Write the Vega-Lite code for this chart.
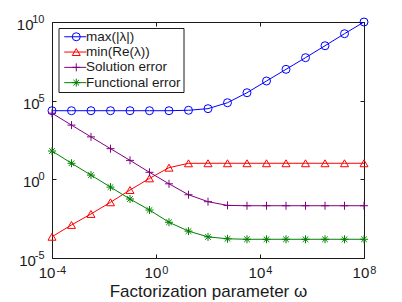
{
  "$schema": "https://vega.github.io/schema/vega-lite/v6.json",
  "width": 312,
  "height": 236,
  "autosize": "none",
  "padding": {"left": 52, "top": 22, "right": 38, "bottom": 44},
  "background": "white",
  "config": {
    "font": "Liberation Sans",
    "view": {"stroke": "#1a1a1a", "strokeWidth": 1},
    "axis": {"grid": false, "domain": false, "tickColor": "#1a1a1a", "tickSize": -4, "labelColor": "#1a1a1a", "titleColor": "#1a1a1a", "labelFont": "Liberation Sans", "titleFont": "Liberation Sans", "labelFontSize": 15, "titleFontSize": 17, "titleFontWeight": "normal", "labelFlush": false, "labelOverlap": false}
  },
  "data": {"values": [
    {"w": 1e-4, "s": "max(|λ|)", "v": 23000},
    {"w": 5.623e-4, "s": "max(|λ|)", "v": 23000},
    {"w": 3.162e-3, "s": "max(|λ|)", "v": 23000},
    {"w": 1.778e-2, "s": "max(|λ|)", "v": 23000},
    {"w": 0.1, "s": "max(|λ|)", "v": 23000},
    {"w": 0.5623, "s": "max(|λ|)", "v": 23000},
    {"w": 3.162, "s": "max(|λ|)", "v": 23000},
    {"w": 17.78, "s": "max(|λ|)", "v": 24500},
    {"w": 100, "s": "max(|λ|)", "v": 31000},
    {"w": 562.3, "s": "max(|λ|)", "v": 74000},
    {"w": 3162, "s": "max(|λ|)", "v": 320000},
    {"w": 17783, "s": "max(|λ|)", "v": 1780000},
    {"w": 100000, "s": "max(|λ|)", "v": 9800000},
    {"w": 562341, "s": "max(|λ|)", "v": 54000000},
    {"w": 3162278, "s": "max(|λ|)", "v": 310000000},
    {"w": 17782794, "s": "max(|λ|)", "v": 1800000000},
    {"w": 100000000, "s": "max(|λ|)", "v": 10000000000},
    {"w": 1e-4, "s": "min(Re(λ))", "v": 2.24e-4},
    {"w": 5.623e-4, "s": "min(Re(λ))", "v": 1.26e-3},
    {"w": 3.162e-3, "s": "min(Re(λ))", "v": 6.3e-3},
    {"w": 1.778e-2, "s": "min(Re(λ))", "v": 3.47e-2},
    {"w": 0.1, "s": "min(Re(λ))", "v": 0.209},
    {"w": 0.5623, "s": "min(Re(λ))", "v": 1.15},
    {"w": 3.162, "s": "min(Re(λ))", "v": 5.5},
    {"w": 17.78, "s": "min(Re(λ))", "v": 10.4},
    {"w": 100, "s": "min(Re(λ))", "v": 10.5},
    {"w": 562.3, "s": "min(Re(λ))", "v": 10.5},
    {"w": 3162, "s": "min(Re(λ))", "v": 10.5},
    {"w": 17783, "s": "min(Re(λ))", "v": 10.5},
    {"w": 100000, "s": "min(Re(λ))", "v": 10.5},
    {"w": 562341, "s": "min(Re(λ))", "v": 10.5},
    {"w": 3162278, "s": "min(Re(λ))", "v": 10.5},
    {"w": 17782794, "s": "min(Re(λ))", "v": 10.5},
    {"w": 100000000, "s": "min(Re(λ))", "v": 10.5},
    {"w": 1e-4, "s": "Solution error", "v": 16000},
    {"w": 5.623e-4, "s": "Solution error", "v": 2800},
    {"w": 3.162e-3, "s": "Solution error", "v": 500},
    {"w": 1.778e-2, "s": "Solution error", "v": 89},
    {"w": 0.1, "s": "Solution error", "v": 16},
    {"w": 0.5623, "s": "Solution error", "v": 2.8},
    {"w": 3.162, "s": "Solution error", "v": 0.52},
    {"w": 17.78, "s": "Solution error", "v": 0.105},
    {"w": 100, "s": "Solution error", "v": 0.038},
    {"w": 562.3, "s": "Solution error", "v": 0.022},
    {"w": 3162, "s": "Solution error", "v": 0.021},
    {"w": 17783, "s": "Solution error", "v": 0.021},
    {"w": 100000, "s": "Solution error", "v": 0.021},
    {"w": 562341, "s": "Solution error", "v": 0.021},
    {"w": 3162278, "s": "Solution error", "v": 0.021},
    {"w": 17782794, "s": "Solution error", "v": 0.021},
    {"w": 100000000, "s": "Solution error", "v": 0.021},
    {"w": 1e-4, "s": "Functional error", "v": 63},
    {"w": 5.623e-4, "s": "Functional error", "v": 10.5},
    {"w": 3.162e-3, "s": "Functional error", "v": 1.86},
    {"w": 1.778e-2, "s": "Functional error", "v": 0.32},
    {"w": 0.1, "s": "Functional error", "v": 0.056},
    {"w": 0.5623, "s": "Functional error", "v": 0.0112},
    {"w": 3.162, "s": "Functional error", "v": 1.86e-3},
    {"w": 17.78, "s": "Functional error", "v": 5.1e-4},
    {"w": 100, "s": "Functional error", "v": 2.2e-4},
    {"w": 562.3, "s": "Functional error", "v": 1.66e-4},
    {"w": 3162, "s": "Functional error", "v": 1.55e-4},
    {"w": 17783, "s": "Functional error", "v": 1.55e-4},
    {"w": 100000, "s": "Functional error", "v": 1.55e-4},
    {"w": 562341, "s": "Functional error", "v": 1.55e-4},
    {"w": 3162278, "s": "Functional error", "v": 1.55e-4},
    {"w": 17782794, "s": "Functional error", "v": 1.55e-4},
    {"w": 100000000, "s": "Functional error", "v": 1.55e-4}
  ]},
  "layer": [
    {
      "mark": {"type": "line", "strokeWidth": 1, "clip": true},
      "encoding": {
        "x": {"field": "w", "type": "quantitative", "scale": {"type": "log", "domain": [1e-4, 1e8], "nice": false},
          "axis": {"orient": "bottom", "values": [1e-4, 1, 10000, 100000000], "title": "Factorization parameter ω", "labelPadding": 23, "labelBaseline": "alphabetic", "titlePadding": 3,
            "labelExpr": "'10'",
            "labelOffset": {"condition": {"test": "datum.value < 0.001", "value": -5.4}, "value": -3.55}}},
        "y": {"field": "v", "type": "quantitative", "scale": {"type": "log", "domain": [1e-5, 1e10], "nice": false},
          "axis": {"orient": "left", "values": [1e-5, 1, 100000, 10000000000], "title": null, "labelBaseline": "alphabetic", "labelOffset": 7.5,
            "labelExpr": "'10'",
            "labelPadding": {"condition": [{"test": "datum.value > 1e9", "value": 23}, {"test": "datum.value < 0.001", "value": 20.6}], "value": 16.9}}},
        "color": {"field": "s", "type": "nominal", "scale": {"domain": ["max(|λ|)", "min(Re(λ))", "Solution error", "Functional error"], "range": ["#0000ff", "#ff0000", "#800080", "#008000"]},
          "legend": {"title": null, "orient": "none", "legendX": 6.5, "legendY": 6, "zindex": 1, "strokeColor": "#1a1a1a", "fillColor": "white", "padding": 2, "symbolType": "M-2.2,0H2.2", "symbolSize": 100, "symbolOffset": 8, "symbolStrokeWidth": 1, "labelFont": "Liberation Sans", "labelFontSize": 13.5, "labelColor": "#1a1a1a", "labelOffset": 4, "rowPadding": 0.3}}
      }
    },
    {
      "transform": [{"filter": "datum.s == 'max(|λ|)' || datum.s == 'min(Re(λ))'"}],
      "mark": {"type": "point", "filled": false, "size": 64, "strokeWidth": 1, "opacity": 1},
      "encoding": {
        "x": {"field": "w", "type": "quantitative",
          "axis": {"orient": "bottom", "values": [1e-4, 1, 10000, 100000000], "title": null, "ticks": false, "labelFontSize": 11, "labelPadding": 15, "labelBaseline": "alphabetic", "labelAlign": "left",
            "labelExpr": "'' + round(log(datum.value)/LN10)",
            "labelOffset": {"condition": {"test": "datum.value < 0.001", "value": 3.95}, "value": 5.8}}},
        "y": {"field": "v", "type": "quantitative",
          "axis": {"orient": "left", "values": [1e-5, 1, 100000, 10000000000], "title": null, "ticks": false, "labelFontSize": 11, "labelPadding": 8, "labelBaseline": "alphabetic", "labelAlign": "right", "labelOffset": 0.5,
            "labelExpr": "'' + round(log(datum.value)/LN10)"}},
        "color": {"field": "s", "type": "nominal",
          "legend": {"title": null, "orient": "none", "legendX": 6.5, "legendY": 6, "zindex": 2, "strokeColor": "transparent", "fillColor": "transparent", "padding": 2, "symbolSize": 64, "symbolOffset": 9, "symbolStrokeWidth": 1, "labelFont": "Liberation Sans", "labelFontSize": 13.5, "labelExpr": "''", "labelOffset": 4, "rowPadding": 0.3}},
        "shape": {"field": "s", "type": "nominal", "scale": {"domain": ["max(|λ|)", "min(Re(λ))", "Solution error", "Functional error"], "range": ["circle", "triangle-up", "M-1,0H1M0,-1V1", "M-1,0H1M0,-1V1M-0.7,-0.7L0.7,0.7M-0.7,0.7L0.7,-0.7"]},
          "legend": {"title": null, "orient": "none", "legendX": 6.5, "legendY": 6, "zindex": 2, "strokeColor": "transparent", "fillColor": "transparent", "padding": 2, "symbolSize": 64, "symbolOffset": 9, "symbolStrokeWidth": 1, "labelFont": "Liberation Sans", "labelFontSize": 13.5, "labelExpr": "''", "labelOffset": 4, "rowPadding": 0.3}}
      }
    },
    {
      "transform": [{"filter": "datum.s == 'Solution error' || datum.s == 'Functional error'"}],
      "mark": {"type": "point", "filled": false, "size": 64, "strokeWidth": 1, "opacity": 1},
      "encoding": {
        "x": {"field": "w", "type": "quantitative", "axis": {"orient": "top", "values": [1e-4, 1, 10000, 100000000], "labels": false, "title": null}},
        "y": {"field": "v", "type": "quantitative", "axis": {"orient": "right", "values": [1e-5, 1, 100000, 10000000000], "labels": false, "title": null}},
        "color": {"field": "s", "type": "nominal", "legend": null},
        "shape": {"field": "s", "type": "nominal", "legend": null}
      }
    }
  ],
  "resolve": {"axis": {"x": "independent", "y": "independent"}, "legend": {"color": "independent", "shape": "independent"}}
}
